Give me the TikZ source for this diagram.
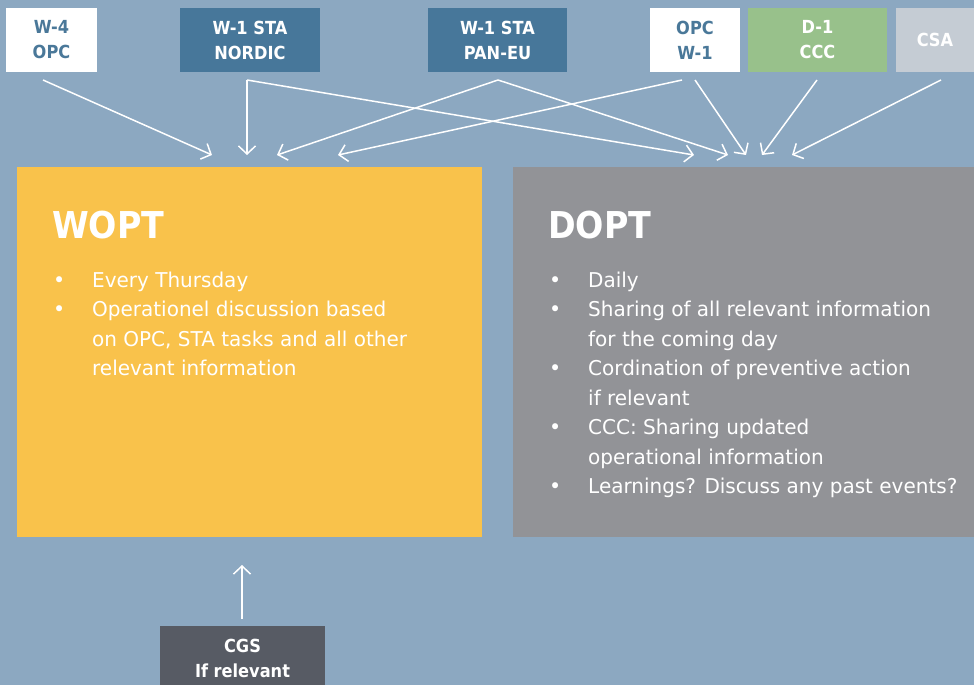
\documentclass[tikz,border=0pt]{standalone}
\usepackage{fontspec}
\setmainfont{DejaVu Sans}[FakeStretch=0.9]
\newfontfamily\listfont{DejaVu Sans}[FakeStretch=0.98]
\usetikzlibrary{arrows.meta}

\definecolor{bgblue}{HTML}{8CA8C1}
\definecolor{stablue}{HTML}{47779A}
\definecolor{txtblue}{HTML}{4A7899}
\definecolor{cccgreen}{HTML}{98C18B}
\definecolor{csagrey}{HTML}{C5CCD4}
\definecolor{woptyellow}{HTML}{F9C24B}
\definecolor{doptgrey}{HTML}{929397}
\definecolor{cgsgrey}{HTML}{575B64}

\newcommand{\blt}{{\fontsize{21}{21}\selectfont\textbullet}}

\tikzset{
  topbox/.style={rectangle, inner sep=0pt, outer sep=0pt, anchor=north west,
    align=center, minimum height=64pt, font=\bfseries\fontsize{18}{25}\selectfont},
  bigbox/.style={rectangle, inner sep=0pt, outer sep=0pt, anchor=north west,
    minimum height=370pt},
  head/.style={anchor=base west, inner sep=0pt, text=white,
    font=\bfseries\fontsize{37}{40}\selectfont},
  listtxt/.style={anchor=base west, inner sep=0pt, text=white,
    font=\listfont\fontsize{20.4}{29.5}\selectfont},
  flow/.style={white, line width=1.5pt, -{Straight Barb[length=8pt,width=17pt]}}
}

\begin{document}
\begin{tikzpicture}[x=1pt, y=-1pt]
            \useasboundingbox (0,0) rectangle (974,685);
            \fill[bgblue] (0,0) rectangle (974,685);
            % sources
            \node[topbox, fill=white, text=txtblue, minimum width=91pt] (w4opc) at (6,8) {W-4\\OPC};
            \node[topbox, fill=stablue, text=white, minimum width=140pt] (nordic) at (180,8) {W-1 STA\\NORDIC};
            \node[topbox, fill=stablue, text=white, minimum width=139pt] (paneu) at (428,8) {W-1 STA\\PAN-EU};
            \node[topbox, fill=white, text=txtblue, minimum width=90pt] (opcw1) at (650,8) {OPC\\W-1};
            \node[topbox, fill=cccgreen, text=white, minimum width=139pt] (d1ccc) at (748,8) {D-1\\CCC};
            \node[topbox, fill=csagrey, text=white, minimum width=78pt] (csa) at (896,8) {CSA};
            % meetings
            \node[bigbox, fill=woptyellow, minimum width=465pt] (wopt) at (17,167) {};
            \node[bigbox, fill=doptgrey, minimum width=461pt] (dopt) at (513,167) {};
            \node[head] (wopt-head) at (52,238) {WOPT};
            \node[head] (dopt-head) at (548,238) {DOPT};
            \node[listtxt] (wopt-list) at (53,287) {\begin{tabular}[t]{@{}p{39pt}@{}l@{}}
                \blt & Every Thursday\\
                \blt & Operationel discussion based\\
                & on OPC, STA tasks and all other\\
                & relevant information
            \end{tabular}};
            \node[listtxt] (dopt-list) at (549,287) {\begin{tabular}[t]{@{}p{39pt}@{}l@{}}
                \blt & Daily\\
                \blt & Sharing of all relevant information\\
                & for the coming day\\
                \blt & Cordination of preventive action\\
                & if relevant\\
                \blt & CCC: Sharing updated\\
                & operational information\\
                \blt & Learnings? Discuss any past events?
            \end{tabular}};
            \node[topbox, fill=cgsgrey, text=white, minimum width=165pt, minimum height=65pt] (cgs) at (160,626) {CGS\\If relevant};
            % arrow ends
            \coordinate (w4-out) at (43,80);
            \coordinate (nordic-out) at (247,80);
            \coordinate (paneu-out) at (498,80);
            \coordinate (opcw-out1) at (682,80);
            \coordinate (opcw-out2) at (695,80);
            \coordinate (ccc-out) at (817,80);
            \coordinate (csa-out) at (941,80);
            \coordinate (cgs-out) at (242,619);
            \coordinate (wopt-in1) at (212,155);
            \coordinate (wopt-in2) at (247,155);
            \coordinate (wopt-in3) at (277,155);
            \coordinate (wopt-in4) at (338,155);
            \coordinate (wopt-in5) at (242,565);
            \coordinate (dopt-in1) at (694,155);
            \coordinate (dopt-in2) at (728,155);
            \coordinate (dopt-in3) at (746,155);
            \coordinate (dopt-in4) at (762,155);
            \coordinate (dopt-in5) at (792,155);
            % arrows
            \draw[flow] (w4-out)--(wopt-in1);
            \draw[flow] (nordic-out)--(wopt-in2);
            \draw[flow] (nordic-out)--(dopt-in1);
            \draw[flow] (paneu-out)--(wopt-in3);
            \draw[flow] (paneu-out)--(dopt-in2);
            \draw[flow] (opcw-out1)--(wopt-in4);
            \draw[flow] (opcw-out2)--(dopt-in3);
            \draw[flow] (ccc-out)--(dopt-in4);
            \draw[flow] (csa-out)--(dopt-in5);
            \draw[flow] (cgs-out)--(wopt-in5);
        \end{tikzpicture}
\end{document}
